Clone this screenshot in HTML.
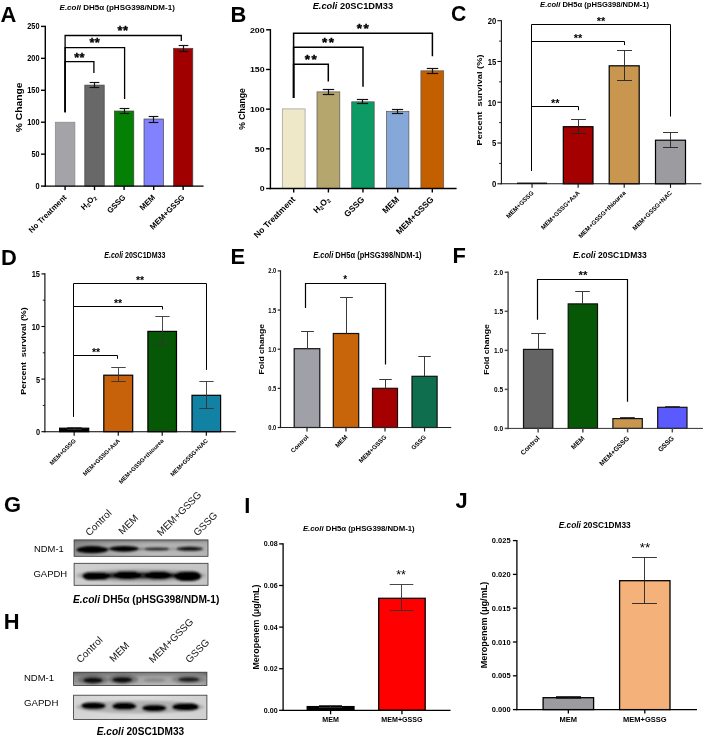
<!DOCTYPE html>
<html lang="en"><head><meta charset="utf-8"><title>Figure</title>
<style>html,body{margin:0;padding:0;background:#fff;overflow:hidden;}svg{display:block;font-family:"Liberation Sans", Arial, sans-serif;}</style></head><body>
<svg width="705" height="737" viewBox="0 0 705 737">
<rect width="705" height="737" fill="#fff"/>
<defs><filter id="bl" x="-20%" y="-50%" width="140%" height="200%"><feGaussianBlur stdDeviation="1.2"/></filter><filter id="bl2" x="-20%" y="-50%" width="140%" height="200%"><feGaussianBlur stdDeviation="0.8"/></filter></defs>
<g id="panelA">
<rect x="55.30" y="122.20" width="19.60" height="63.90" fill="#a3a3a8" stroke="#888" stroke-width="0.7"/>
<rect x="84.80" y="85.10" width="19.40" height="101.00" fill="#686868" stroke="#444" stroke-width="0.7"/>
<line x1="94.50" y1="82.50" x2="94.50" y2="87.50" stroke="#111" stroke-width="1.15" stroke-linecap="butt"/>
<line x1="89.65" y1="82.50" x2="99.35" y2="82.50" stroke="#111" stroke-width="1.15" stroke-linecap="butt"/>
<line x1="89.65" y1="87.50" x2="99.35" y2="87.50" stroke="#111" stroke-width="1.15" stroke-linecap="butt"/>
<rect x="114.40" y="111.00" width="19.40" height="75.10" fill="#048004" stroke="#444" stroke-width="0.7"/>
<line x1="124.50" y1="108.50" x2="124.50" y2="113.50" stroke="#111" stroke-width="1.15" stroke-linecap="butt"/>
<line x1="119.65" y1="108.50" x2="129.35" y2="108.50" stroke="#111" stroke-width="1.15" stroke-linecap="butt"/>
<line x1="119.65" y1="113.50" x2="129.35" y2="113.50" stroke="#111" stroke-width="1.15" stroke-linecap="butt"/>
<rect x="144.00" y="119.00" width="19.40" height="67.10" fill="#8282ff" stroke="#444" stroke-width="0.7"/>
<line x1="153.50" y1="116.50" x2="153.50" y2="122.50" stroke="#111" stroke-width="1.15" stroke-linecap="butt"/>
<line x1="148.65" y1="116.50" x2="158.35" y2="116.50" stroke="#111" stroke-width="1.15" stroke-linecap="butt"/>
<line x1="148.65" y1="122.50" x2="158.35" y2="122.50" stroke="#111" stroke-width="1.15" stroke-linecap="butt"/>
<rect x="173.50" y="48.30" width="19.30" height="137.80" fill="#a00000" stroke="#444" stroke-width="0.7"/>
<line x1="183.50" y1="45.50" x2="183.50" y2="51.50" stroke="#111" stroke-width="1.15" stroke-linecap="butt"/>
<line x1="178.68" y1="45.50" x2="188.32" y2="45.50" stroke="#111" stroke-width="1.15" stroke-linecap="butt"/>
<line x1="178.68" y1="51.50" x2="188.32" y2="51.50" stroke="#111" stroke-width="1.15" stroke-linecap="butt"/>
<line x1="45.30" y1="25.70" x2="45.30" y2="186.80" stroke="#000" stroke-width="1.4" stroke-linecap="butt"/>
<line x1="44.60" y1="186.10" x2="203.60" y2="186.10" stroke="#000" stroke-width="1.4" stroke-linecap="butt"/>
<line x1="41.00" y1="186.10" x2="45.30" y2="186.10" stroke="#000" stroke-width="1.4" stroke-linecap="butt"/>
<text x="39.50" y="189.14" font-size="8.5" font-weight="bold" text-anchor="end" fill="#000" textLength="4.1" lengthAdjust="spacingAndGlyphs">0</text>
<line x1="41.00" y1="154.16" x2="45.30" y2="154.16" stroke="#000" stroke-width="1.4" stroke-linecap="butt"/>
<text x="39.50" y="157.20" font-size="8.5" font-weight="bold" text-anchor="end" fill="#000" textLength="8.1" lengthAdjust="spacingAndGlyphs">50</text>
<line x1="41.00" y1="122.22" x2="45.30" y2="122.22" stroke="#000" stroke-width="1.4" stroke-linecap="butt"/>
<text x="39.50" y="125.26" font-size="8.5" font-weight="bold" text-anchor="end" fill="#000" textLength="12.2" lengthAdjust="spacingAndGlyphs">100</text>
<line x1="41.00" y1="90.28" x2="45.30" y2="90.28" stroke="#000" stroke-width="1.4" stroke-linecap="butt"/>
<text x="39.50" y="93.32" font-size="8.5" font-weight="bold" text-anchor="end" fill="#000" textLength="12.2" lengthAdjust="spacingAndGlyphs">150</text>
<line x1="41.00" y1="58.34" x2="45.30" y2="58.34" stroke="#000" stroke-width="1.4" stroke-linecap="butt"/>
<text x="39.50" y="61.38" font-size="8.5" font-weight="bold" text-anchor="end" fill="#000" textLength="12.2" lengthAdjust="spacingAndGlyphs">200</text>
<line x1="41.00" y1="26.40" x2="45.30" y2="26.40" stroke="#000" stroke-width="1.4" stroke-linecap="butt"/>
<text x="39.50" y="29.44" font-size="8.5" font-weight="bold" text-anchor="end" fill="#000" textLength="12.2" lengthAdjust="spacingAndGlyphs">250</text>
<line x1="65.10" y1="186.10" x2="65.10" y2="190.10" stroke="#000" stroke-width="1.4" stroke-linecap="butt"/>
<text x="67.10" y="197.90" font-size="7.8" font-weight="bold" text-anchor="end" fill="#000" transform="rotate(-45 67.10 197.90)">No Treatment</text>
<line x1="94.50" y1="186.10" x2="94.50" y2="190.10" stroke="#000" stroke-width="1.4" stroke-linecap="butt"/>
<text x="96.50" y="197.90" font-size="7.8" font-weight="bold" text-anchor="end" fill="#000" transform="rotate(-45 96.50 197.90)">H<tspan font-size="70%" dy="1.5">2</tspan><tspan dy="-1.5">O</tspan><tspan font-size="70%" dy="1.5">2</tspan></text>
<line x1="124.10" y1="186.10" x2="124.10" y2="190.10" stroke="#000" stroke-width="1.4" stroke-linecap="butt"/>
<text x="126.10" y="197.90" font-size="7.8" font-weight="bold" text-anchor="end" fill="#000" transform="rotate(-45 126.10 197.90)">GSSG</text>
<line x1="153.70" y1="186.10" x2="153.70" y2="190.10" stroke="#000" stroke-width="1.4" stroke-linecap="butt"/>
<text x="155.70" y="197.90" font-size="7.8" font-weight="bold" text-anchor="end" fill="#000" transform="rotate(-45 155.70 197.90)">MEM</text>
<line x1="183.15" y1="186.10" x2="183.15" y2="190.10" stroke="#000" stroke-width="1.4" stroke-linecap="butt"/>
<text x="185.15" y="197.90" font-size="7.8" font-weight="bold" text-anchor="end" fill="#000" transform="rotate(-45 185.15 197.90)">MEM+GSSG</text>
<text x="22.30" y="107.30" font-size="9.3" font-weight="bold" text-anchor="middle" fill="#000" transform="rotate(-90 22.30 107.30)" textLength="49.7" lengthAdjust="spacingAndGlyphs">% Change</text>
<text x="117.20" y="10.40" font-size="8" font-weight="bold" text-anchor="middle" fill="#000" textLength="115.3" lengthAdjust="spacingAndGlyphs"><tspan font-style="italic">E.coli</tspan> DH5α (pHSG398/NDM-1)</text>
<path d="M65.10 112.30 V35.50 H181.30 V40.90" stroke="#000" stroke-width="1.3" fill="none"/>
<path d="M65.10 112.30 V47.70 H124.60 V99.00" stroke="#000" stroke-width="1.3" fill="none"/>
<path d="M65.10 112.30 V61.70 H93.90 V72.90" stroke="#000" stroke-width="1.3" fill="none"/>
<text x="123.00" y="34.80" font-size="12.8" font-weight="bold" text-anchor="middle" fill="#000" letter-spacing="0.4" stroke="#000" stroke-width="0.35">**</text>
<text x="94.80" y="47.10" font-size="12.8" font-weight="bold" text-anchor="middle" fill="#000" letter-spacing="0.4" stroke="#000" stroke-width="0.35">**</text>
<text x="79.60" y="61.50" font-size="12.8" font-weight="bold" text-anchor="middle" fill="#000" letter-spacing="0.4" stroke="#000" stroke-width="0.35">**</text>
<text x="0.60" y="21.60" font-size="21.9" font-weight="bold" text-anchor="start" fill="#000">A</text>
</g>
<g id="panelB">
<rect x="282.30" y="108.90" width="22.80" height="79.60" fill="#eee8c8" stroke="#999" stroke-width="0.7"/>
<rect x="317.00" y="91.90" width="22.80" height="96.60" fill="#b5a66e" stroke="#555" stroke-width="0.7"/>
<line x1="328.50" y1="89.50" x2="328.50" y2="94.50" stroke="#111" stroke-width="1.2" stroke-linecap="butt"/>
<line x1="322.80" y1="89.50" x2="334.20" y2="89.50" stroke="#111" stroke-width="1.2" stroke-linecap="butt"/>
<line x1="322.80" y1="94.50" x2="334.20" y2="94.50" stroke="#111" stroke-width="1.2" stroke-linecap="butt"/>
<rect x="351.70" y="101.80" width="22.50" height="86.70" fill="#0e9a64" stroke="#555" stroke-width="0.7"/>
<line x1="362.50" y1="99.50" x2="362.50" y2="103.50" stroke="#111" stroke-width="1.2" stroke-linecap="butt"/>
<line x1="356.88" y1="99.50" x2="368.12" y2="99.50" stroke="#111" stroke-width="1.2" stroke-linecap="butt"/>
<line x1="356.88" y1="103.50" x2="368.12" y2="103.50" stroke="#111" stroke-width="1.2" stroke-linecap="butt"/>
<rect x="386.50" y="111.30" width="22.40" height="77.20" fill="#86a8d8" stroke="#555" stroke-width="0.7"/>
<line x1="397.50" y1="109.50" x2="397.50" y2="113.50" stroke="#111" stroke-width="1.2" stroke-linecap="butt"/>
<line x1="391.90" y1="109.50" x2="403.10" y2="109.50" stroke="#111" stroke-width="1.2" stroke-linecap="butt"/>
<line x1="391.90" y1="113.50" x2="403.10" y2="113.50" stroke="#111" stroke-width="1.2" stroke-linecap="butt"/>
<rect x="420.90" y="70.80" width="22.80" height="117.70" fill="#c45f00" stroke="#555" stroke-width="0.7"/>
<line x1="432.50" y1="68.50" x2="432.50" y2="73.50" stroke="#111" stroke-width="1.2" stroke-linecap="butt"/>
<line x1="426.80" y1="68.50" x2="438.20" y2="68.50" stroke="#111" stroke-width="1.2" stroke-linecap="butt"/>
<line x1="426.80" y1="73.50" x2="438.20" y2="73.50" stroke="#111" stroke-width="1.2" stroke-linecap="butt"/>
<line x1="270.40" y1="29.10" x2="270.40" y2="189.20" stroke="#000" stroke-width="1.4" stroke-linecap="butt"/>
<line x1="269.70" y1="188.50" x2="456.60" y2="188.50" stroke="#000" stroke-width="1.4" stroke-linecap="butt"/>
<line x1="266.10" y1="188.50" x2="270.40" y2="188.50" stroke="#000" stroke-width="1.4" stroke-linecap="butt"/>
<text x="264.60" y="191.29" font-size="7.8" font-weight="bold" text-anchor="end" fill="#000" textLength="4.9" lengthAdjust="spacingAndGlyphs">0</text>
<line x1="266.10" y1="148.82" x2="270.40" y2="148.82" stroke="#000" stroke-width="1.4" stroke-linecap="butt"/>
<text x="264.60" y="151.62" font-size="7.8" font-weight="bold" text-anchor="end" fill="#000" textLength="9.8" lengthAdjust="spacingAndGlyphs">50</text>
<line x1="266.10" y1="109.15" x2="270.40" y2="109.15" stroke="#000" stroke-width="1.4" stroke-linecap="butt"/>
<text x="264.60" y="111.94" font-size="7.8" font-weight="bold" text-anchor="end" fill="#000" textLength="14.7" lengthAdjust="spacingAndGlyphs">100</text>
<line x1="266.10" y1="69.48" x2="270.40" y2="69.48" stroke="#000" stroke-width="1.4" stroke-linecap="butt"/>
<text x="264.60" y="72.27" font-size="7.8" font-weight="bold" text-anchor="end" fill="#000" textLength="14.7" lengthAdjust="spacingAndGlyphs">150</text>
<line x1="266.10" y1="29.80" x2="270.40" y2="29.80" stroke="#000" stroke-width="1.4" stroke-linecap="butt"/>
<text x="264.60" y="32.59" font-size="7.8" font-weight="bold" text-anchor="end" fill="#000" textLength="14.7" lengthAdjust="spacingAndGlyphs">200</text>
<line x1="293.70" y1="188.50" x2="293.70" y2="192.50" stroke="#000" stroke-width="1.4" stroke-linecap="butt"/>
<text x="295.70" y="200.00" font-size="8.5" font-weight="bold" text-anchor="end" fill="#000" transform="rotate(-45 295.70 200.00)">No Treatment</text>
<line x1="328.40" y1="188.50" x2="328.40" y2="192.50" stroke="#000" stroke-width="1.4" stroke-linecap="butt"/>
<text x="330.40" y="200.00" font-size="8.5" font-weight="bold" text-anchor="end" fill="#000" transform="rotate(-45 330.40 200.00)">H<tspan font-size="70%" dy="1.5">2</tspan><tspan dy="-1.5">O</tspan><tspan font-size="70%" dy="1.5">2</tspan></text>
<line x1="362.95" y1="188.50" x2="362.95" y2="192.50" stroke="#000" stroke-width="1.4" stroke-linecap="butt"/>
<text x="364.95" y="200.00" font-size="8.5" font-weight="bold" text-anchor="end" fill="#000" transform="rotate(-45 364.95 200.00)">GSSG</text>
<line x1="397.70" y1="188.50" x2="397.70" y2="192.50" stroke="#000" stroke-width="1.4" stroke-linecap="butt"/>
<text x="399.70" y="200.00" font-size="8.5" font-weight="bold" text-anchor="end" fill="#000" transform="rotate(-45 399.70 200.00)">MEM</text>
<line x1="432.30" y1="188.50" x2="432.30" y2="192.50" stroke="#000" stroke-width="1.4" stroke-linecap="butt"/>
<text x="434.30" y="200.00" font-size="8.5" font-weight="bold" text-anchor="end" fill="#000" transform="rotate(-45 434.30 200.00)">MEM+GSSG</text>
<text x="244.50" y="109.00" font-size="8.6" font-weight="bold" text-anchor="middle" fill="#000" transform="rotate(-90 244.50 109.00)">% Change</text>
<text x="352.90" y="9.00" font-size="8.6" font-weight="bold" text-anchor="middle" fill="#000" textLength="80.4" lengthAdjust="spacingAndGlyphs"><tspan font-style="italic">E.coli</tspan> 20SC1DM33</text>
<path d="M293.60 98.00 V33.20 H432.40 V56.20" stroke="#000" stroke-width="1.5" fill="none"/>
<path d="M293.60 98.00 V47.20 H363.00 V86.80" stroke="#000" stroke-width="1.5" fill="none"/>
<path d="M293.60 98.00 V64.20 H328.30 V81.40" stroke="#000" stroke-width="1.5" fill="none"/>
<text x="363.50" y="33.00" font-size="13.5" font-weight="bold" text-anchor="middle" fill="#000" letter-spacing="1.6" stroke="#000" stroke-width="0.4">**</text>
<text x="328.80" y="47.20" font-size="13.5" font-weight="bold" text-anchor="middle" fill="#000" letter-spacing="1.6" stroke="#000" stroke-width="0.4">**</text>
<text x="311.60" y="64.30" font-size="13.5" font-weight="bold" text-anchor="middle" fill="#000" letter-spacing="1.6" stroke="#000" stroke-width="0.4">**</text>
<text x="230.60" y="21.70" font-size="21.9" font-weight="bold" text-anchor="start" fill="#000">B</text>
</g>
<g id="panelC">
<rect x="517.30" y="182.90" width="29.50" height="0.90" fill="#000" stroke="#000" stroke-width="0.5"/>
<rect x="563.30" y="126.70" width="29.70" height="57.10" fill="#a50000" stroke="#000" stroke-width="1.2"/>
<line x1="578.50" y1="119.50" x2="578.50" y2="133.50" stroke="#222" stroke-width="0.9" stroke-linecap="butt"/>
<line x1="571.08" y1="119.50" x2="585.92" y2="119.50" stroke="#222" stroke-width="0.9" stroke-linecap="butt"/>
<line x1="571.08" y1="133.50" x2="585.92" y2="133.50" stroke="#222" stroke-width="0.9" stroke-linecap="butt"/>
<rect x="609.20" y="65.80" width="30.00" height="118.00" fill="#c8964e" stroke="#000" stroke-width="1.2"/>
<line x1="624.50" y1="50.50" x2="624.50" y2="80.50" stroke="#222" stroke-width="0.9" stroke-linecap="butt"/>
<line x1="617.00" y1="50.50" x2="632.00" y2="50.50" stroke="#222" stroke-width="0.9" stroke-linecap="butt"/>
<line x1="617.00" y1="80.50" x2="632.00" y2="80.50" stroke="#222" stroke-width="0.9" stroke-linecap="butt"/>
<rect x="655.50" y="140.20" width="30.00" height="43.60" fill="#9c9ca0" stroke="#000" stroke-width="1.2"/>
<line x1="670.50" y1="132.50" x2="670.50" y2="147.50" stroke="#222" stroke-width="0.9" stroke-linecap="butt"/>
<line x1="663.00" y1="132.50" x2="678.00" y2="132.50" stroke="#222" stroke-width="0.9" stroke-linecap="butt"/>
<line x1="663.00" y1="147.50" x2="678.00" y2="147.50" stroke="#222" stroke-width="0.9" stroke-linecap="butt"/>
<line x1="501.40" y1="20.15" x2="501.40" y2="184.35" stroke="#111" stroke-width="1.1" stroke-linecap="butt"/>
<line x1="500.85" y1="183.80" x2="701.30" y2="183.80" stroke="#111" stroke-width="1.1" stroke-linecap="butt"/>
<line x1="497.40" y1="183.80" x2="501.40" y2="183.80" stroke="#111" stroke-width="1.1" stroke-linecap="butt"/>
<text x="496.20" y="187.24" font-size="9.6" font-weight="bold" text-anchor="end" fill="#000" textLength="4.3" lengthAdjust="spacingAndGlyphs">0</text>
<line x1="497.40" y1="143.03" x2="501.40" y2="143.03" stroke="#111" stroke-width="1.1" stroke-linecap="butt"/>
<text x="496.20" y="146.46" font-size="9.6" font-weight="bold" text-anchor="end" fill="#000" textLength="4.3" lengthAdjust="spacingAndGlyphs">5</text>
<line x1="497.40" y1="102.25" x2="501.40" y2="102.25" stroke="#111" stroke-width="1.1" stroke-linecap="butt"/>
<text x="496.20" y="105.69" font-size="9.6" font-weight="bold" text-anchor="end" fill="#000" textLength="8.5" lengthAdjust="spacingAndGlyphs">10</text>
<line x1="497.40" y1="61.47" x2="501.40" y2="61.47" stroke="#111" stroke-width="1.1" stroke-linecap="butt"/>
<text x="496.20" y="64.91" font-size="9.6" font-weight="bold" text-anchor="end" fill="#000" textLength="8.5" lengthAdjust="spacingAndGlyphs">15</text>
<line x1="497.40" y1="20.70" x2="501.40" y2="20.70" stroke="#111" stroke-width="1.1" stroke-linecap="butt"/>
<text x="496.20" y="24.14" font-size="9.6" font-weight="bold" text-anchor="end" fill="#000" textLength="8.5" lengthAdjust="spacingAndGlyphs">20</text>
<line x1="499.00" y1="163.41" x2="501.40" y2="163.41" stroke="#111" stroke-width="0.8800000000000001" stroke-linecap="butt"/>
<line x1="499.00" y1="122.64" x2="501.40" y2="122.64" stroke="#111" stroke-width="0.8800000000000001" stroke-linecap="butt"/>
<line x1="499.00" y1="81.86" x2="501.40" y2="81.86" stroke="#111" stroke-width="0.8800000000000001" stroke-linecap="butt"/>
<line x1="499.00" y1="41.09" x2="501.40" y2="41.09" stroke="#111" stroke-width="0.8800000000000001" stroke-linecap="butt"/>
<line x1="532.05" y1="183.80" x2="532.05" y2="187.80" stroke="#111" stroke-width="1.1" stroke-linecap="butt"/>
<text x="534.05" y="193.30" font-size="6.2" font-weight="bold" text-anchor="end" fill="#000" transform="rotate(-45 534.05 193.30)">MEM+GSSG</text>
<line x1="578.15" y1="183.80" x2="578.15" y2="187.80" stroke="#111" stroke-width="1.1" stroke-linecap="butt"/>
<text x="580.15" y="193.30" font-size="6.2" font-weight="bold" text-anchor="end" fill="#000" transform="rotate(-45 580.15 193.30)">MEM+GSSG+AsA</text>
<line x1="624.20" y1="183.80" x2="624.20" y2="187.80" stroke="#111" stroke-width="1.1" stroke-linecap="butt"/>
<text x="626.20" y="193.30" font-size="6.2" font-weight="bold" text-anchor="end" fill="#000" transform="rotate(-45 626.20 193.30)">MEM+GSSG+thiourea</text>
<line x1="670.50" y1="183.80" x2="670.50" y2="187.80" stroke="#111" stroke-width="1.1" stroke-linecap="butt"/>
<text x="672.50" y="193.30" font-size="6.2" font-weight="bold" text-anchor="end" fill="#000" transform="rotate(-45 672.50 193.30)">MEM+GSSG+NAC</text>
<text x="482.30" y="100.00" font-size="7.7" font-weight="bold" text-anchor="middle" fill="#000" transform="rotate(-90 482.30 100.00)" textLength="91.0" lengthAdjust="spacingAndGlyphs">Percent  survival (%)</text>
<text x="594.60" y="6.80" font-size="7.6" font-weight="bold" text-anchor="middle" fill="#000" textLength="109.0" lengthAdjust="spacingAndGlyphs"><tspan font-style="italic">E.coli</tspan> DH5α (pHSG398/NDM-1)</text>
<path d="M531.50 170.80 V24.50 H670.50 V116.50" stroke="#000" stroke-width="1.0" fill="none"/>
<path d="M531.50 170.80 V41.50 H624.50 V45.10" stroke="#000" stroke-width="1.0" fill="none"/>
<path d="M531.50 170.80 V106.50 H578.50 V110.20" stroke="#000" stroke-width="1.0" fill="none"/>
<text x="601.00" y="24.60" font-size="11" font-weight="bold" text-anchor="middle" fill="#000">**</text>
<text x="578.00" y="41.60" font-size="11" font-weight="bold" text-anchor="middle" fill="#000">**</text>
<text x="555.30" y="106.80" font-size="11" font-weight="bold" text-anchor="middle" fill="#000">**</text>
<text x="450.90" y="21.10" font-size="21.2" font-weight="bold" text-anchor="start" fill="#000">C</text>
</g>
<g id="panelD">
<rect x="59.60" y="428.20" width="29.10" height="3.50" fill="#000" stroke="#000" stroke-width="1.2"/>
<line x1="74.50" y1="427.50" x2="74.50" y2="429.50" stroke="#333" stroke-width="0.9" stroke-linecap="butt"/>
<line x1="67.22" y1="427.50" x2="81.78" y2="427.50" stroke="#333" stroke-width="0.9" stroke-linecap="butt"/>
<line x1="67.22" y1="429.50" x2="81.78" y2="429.50" stroke="#333" stroke-width="0.9" stroke-linecap="butt"/>
<rect x="103.80" y="375.20" width="28.90" height="56.50" fill="#c8620a" stroke="#000" stroke-width="1.2"/>
<line x1="118.50" y1="367.50" x2="118.50" y2="381.50" stroke="#333" stroke-width="0.9" stroke-linecap="butt"/>
<line x1="111.28" y1="367.50" x2="125.72" y2="367.50" stroke="#333" stroke-width="0.9" stroke-linecap="butt"/>
<line x1="111.28" y1="381.50" x2="125.72" y2="381.50" stroke="#333" stroke-width="0.9" stroke-linecap="butt"/>
<rect x="147.90" y="331.40" width="28.60" height="100.30" fill="#065806" stroke="#000" stroke-width="1.2"/>
<line x1="162.50" y1="316.50" x2="162.50" y2="345.50" stroke="#333" stroke-width="0.9" stroke-linecap="butt"/>
<line x1="155.35" y1="316.50" x2="169.65" y2="316.50" stroke="#333" stroke-width="0.9" stroke-linecap="butt"/>
<line x1="155.35" y1="345.50" x2="169.65" y2="345.50" stroke="#333" stroke-width="0.9" stroke-linecap="butt"/>
<rect x="192.00" y="395.30" width="28.60" height="36.40" fill="#1282a4" stroke="#000" stroke-width="1.2"/>
<line x1="206.50" y1="381.50" x2="206.50" y2="408.50" stroke="#333" stroke-width="0.9" stroke-linecap="butt"/>
<line x1="199.35" y1="381.50" x2="213.65" y2="381.50" stroke="#333" stroke-width="0.9" stroke-linecap="butt"/>
<line x1="199.35" y1="408.50" x2="213.65" y2="408.50" stroke="#333" stroke-width="0.9" stroke-linecap="butt"/>
<line x1="44.90" y1="273.35" x2="44.90" y2="432.25" stroke="#000" stroke-width="1.1" stroke-linecap="butt"/>
<line x1="44.35" y1="431.70" x2="235.80" y2="431.70" stroke="#000" stroke-width="1.1" stroke-linecap="butt"/>
<line x1="41.40" y1="431.70" x2="44.90" y2="431.70" stroke="#000" stroke-width="1.1" stroke-linecap="butt"/>
<text x="40.00" y="435.21" font-size="9.8" font-weight="bold" text-anchor="end" fill="#000" textLength="4.1" lengthAdjust="spacingAndGlyphs">0</text>
<line x1="41.40" y1="379.10" x2="44.90" y2="379.10" stroke="#000" stroke-width="1.1" stroke-linecap="butt"/>
<text x="40.00" y="382.61" font-size="9.8" font-weight="bold" text-anchor="end" fill="#000" textLength="4.1" lengthAdjust="spacingAndGlyphs">5</text>
<line x1="41.40" y1="326.50" x2="44.90" y2="326.50" stroke="#000" stroke-width="1.1" stroke-linecap="butt"/>
<text x="40.00" y="330.01" font-size="9.8" font-weight="bold" text-anchor="end" fill="#000" textLength="8.3" lengthAdjust="spacingAndGlyphs">10</text>
<line x1="41.40" y1="273.90" x2="44.90" y2="273.90" stroke="#000" stroke-width="1.1" stroke-linecap="butt"/>
<text x="40.00" y="277.41" font-size="9.8" font-weight="bold" text-anchor="end" fill="#000" textLength="8.3" lengthAdjust="spacingAndGlyphs">15</text>
<line x1="42.80" y1="405.40" x2="44.90" y2="405.40" stroke="#000" stroke-width="0.8800000000000001" stroke-linecap="butt"/>
<line x1="42.80" y1="352.80" x2="44.90" y2="352.80" stroke="#000" stroke-width="0.8800000000000001" stroke-linecap="butt"/>
<line x1="42.80" y1="300.20" x2="44.90" y2="300.20" stroke="#000" stroke-width="0.8800000000000001" stroke-linecap="butt"/>
<line x1="74.15" y1="431.70" x2="74.15" y2="435.70" stroke="#000" stroke-width="1.1" stroke-linecap="butt"/>
<text x="76.15" y="441.20" font-size="5.9" font-weight="bold" text-anchor="end" fill="#000" transform="rotate(-45 76.15 441.20)">MEM+GSSG</text>
<line x1="118.25" y1="431.70" x2="118.25" y2="435.70" stroke="#000" stroke-width="1.1" stroke-linecap="butt"/>
<text x="120.25" y="441.20" font-size="5.9" font-weight="bold" text-anchor="end" fill="#000" transform="rotate(-45 120.25 441.20)">MEM+GSSG+AsA</text>
<line x1="162.20" y1="431.70" x2="162.20" y2="435.70" stroke="#000" stroke-width="1.1" stroke-linecap="butt"/>
<text x="164.20" y="441.20" font-size="5.9" font-weight="bold" text-anchor="end" fill="#000" transform="rotate(-45 164.20 441.20)">MEM+GSSG+thiourea</text>
<line x1="206.30" y1="431.70" x2="206.30" y2="435.70" stroke="#000" stroke-width="1.1" stroke-linecap="butt"/>
<text x="208.30" y="441.20" font-size="5.9" font-weight="bold" text-anchor="end" fill="#000" transform="rotate(-45 208.30 441.20)">MEM+GSSG+NAC</text>
<text x="26.00" y="351.00" font-size="7.0" font-weight="bold" text-anchor="middle" fill="#000" transform="rotate(-90 26.00 351.00)" textLength="87.4" lengthAdjust="spacingAndGlyphs">Percent  survival (%)</text>
<text x="134.80" y="258.10" font-size="8.4" font-weight="bold" text-anchor="middle" fill="#000" textLength="61.1" lengthAdjust="spacingAndGlyphs"><tspan font-style="italic">E.coli</tspan> 20SC1DM33</text>
<path d="M73.50 416.50 V283.50 H206.50 V369.90" stroke="#000" stroke-width="1.0" fill="none"/>
<path d="M73.50 416.50 V306.50 H162.50 V309.50" stroke="#000" stroke-width="1.0" fill="none"/>
<path d="M73.50 416.50 V355.50 H117.50 V358.80" stroke="#000" stroke-width="1.0" fill="none"/>
<text x="140.00" y="283.50" font-size="10.5" font-weight="bold" text-anchor="middle" fill="#000">**</text>
<text x="118.00" y="306.50" font-size="10.5" font-weight="bold" text-anchor="middle" fill="#000">**</text>
<text x="96.00" y="355.60" font-size="10.5" font-weight="bold" text-anchor="middle" fill="#000">**</text>
<text x="0.90" y="265.40" font-size="21.9" font-weight="bold" text-anchor="start" fill="#000">D</text>
</g>
<g id="panelE">
<rect x="294.20" y="348.70" width="25.60" height="78.80" fill="#a0a0a8" stroke="#111" stroke-width="1.2"/>
<line x1="307.50" y1="331.50" x2="307.50" y2="348.70" stroke="#3a3a3a" stroke-width="1.0" stroke-linecap="butt"/>
<line x1="301.10" y1="331.50" x2="313.90" y2="331.50" stroke="#3a3a3a" stroke-width="1.0" stroke-linecap="butt"/>
<rect x="333.30" y="333.50" width="25.40" height="94.00" fill="#c8640a" stroke="#111" stroke-width="1.2"/>
<line x1="346.50" y1="297.50" x2="346.50" y2="333.50" stroke="#3a3a3a" stroke-width="1.0" stroke-linecap="butt"/>
<line x1="340.15" y1="297.50" x2="352.85" y2="297.50" stroke="#3a3a3a" stroke-width="1.0" stroke-linecap="butt"/>
<rect x="372.50" y="388.30" width="25.00" height="39.20" fill="#a50000" stroke="#111" stroke-width="1.2"/>
<line x1="385.50" y1="379.50" x2="385.50" y2="388.30" stroke="#3a3a3a" stroke-width="1.0" stroke-linecap="butt"/>
<line x1="379.25" y1="379.50" x2="391.75" y2="379.50" stroke="#3a3a3a" stroke-width="1.0" stroke-linecap="butt"/>
<rect x="412.00" y="376.30" width="25.10" height="51.20" fill="#0e6e4e" stroke="#111" stroke-width="1.2"/>
<line x1="424.50" y1="356.50" x2="424.50" y2="376.30" stroke="#3a3a3a" stroke-width="1.0" stroke-linecap="butt"/>
<line x1="418.23" y1="356.50" x2="430.77" y2="356.50" stroke="#3a3a3a" stroke-width="1.0" stroke-linecap="butt"/>
<line x1="280.50" y1="270.30" x2="280.50" y2="428.10" stroke="#222" stroke-width="1.2" stroke-linecap="butt"/>
<line x1="279.90" y1="427.50" x2="451.20" y2="427.50" stroke="#222" stroke-width="1.2" stroke-linecap="butt"/>
<line x1="277.70" y1="427.50" x2="280.50" y2="427.50" stroke="#222" stroke-width="1.2" stroke-linecap="butt"/>
<text x="276.20" y="430.08" font-size="7.2" font-weight="bold" text-anchor="end" fill="#000" textLength="8.0" lengthAdjust="spacingAndGlyphs">0.0</text>
<line x1="277.70" y1="388.35" x2="280.50" y2="388.35" stroke="#222" stroke-width="1.2" stroke-linecap="butt"/>
<text x="276.20" y="390.93" font-size="7.2" font-weight="bold" text-anchor="end" fill="#000" textLength="8.0" lengthAdjust="spacingAndGlyphs">0.5</text>
<line x1="277.70" y1="349.20" x2="280.50" y2="349.20" stroke="#222" stroke-width="1.2" stroke-linecap="butt"/>
<text x="276.20" y="351.78" font-size="7.2" font-weight="bold" text-anchor="end" fill="#000" textLength="8.0" lengthAdjust="spacingAndGlyphs">1.0</text>
<line x1="277.70" y1="310.05" x2="280.50" y2="310.05" stroke="#222" stroke-width="1.2" stroke-linecap="butt"/>
<text x="276.20" y="312.63" font-size="7.2" font-weight="bold" text-anchor="end" fill="#000" textLength="8.0" lengthAdjust="spacingAndGlyphs">1.5</text>
<line x1="277.70" y1="270.90" x2="280.50" y2="270.90" stroke="#222" stroke-width="1.2" stroke-linecap="butt"/>
<text x="276.20" y="273.48" font-size="7.2" font-weight="bold" text-anchor="end" fill="#000" textLength="8.0" lengthAdjust="spacingAndGlyphs">2.0</text>
<line x1="307.00" y1="427.50" x2="307.00" y2="431.50" stroke="#222" stroke-width="1.2" stroke-linecap="butt"/>
<text x="309.00" y="437.60" font-size="6.25" font-weight="bold" text-anchor="end" fill="#000" transform="rotate(-45 309.00 437.60)">Control</text>
<line x1="346.00" y1="427.50" x2="346.00" y2="431.50" stroke="#222" stroke-width="1.2" stroke-linecap="butt"/>
<text x="348.00" y="437.60" font-size="6.25" font-weight="bold" text-anchor="end" fill="#000" transform="rotate(-45 348.00 437.60)">MEM</text>
<line x1="385.00" y1="427.50" x2="385.00" y2="431.50" stroke="#222" stroke-width="1.2" stroke-linecap="butt"/>
<text x="387.00" y="437.60" font-size="6.25" font-weight="bold" text-anchor="end" fill="#000" transform="rotate(-45 387.00 437.60)">MEM+GSSG</text>
<line x1="424.55" y1="427.50" x2="424.55" y2="431.50" stroke="#222" stroke-width="1.2" stroke-linecap="butt"/>
<text x="426.55" y="437.60" font-size="6.25" font-weight="bold" text-anchor="end" fill="#000" transform="rotate(-45 426.55 437.60)">GSSG</text>
<text x="264.30" y="349.20" font-size="7.3" font-weight="bold" text-anchor="middle" fill="#000" transform="rotate(-90 264.30 349.20)" textLength="50.5" lengthAdjust="spacingAndGlyphs">Fold change</text>
<text x="367.40" y="258.20" font-size="9.0" font-weight="bold" text-anchor="middle" fill="#000" textLength="108.5" lengthAdjust="spacingAndGlyphs"><tspan font-style="italic">E.coli</tspan> DH5α (pHSG398/NDM-1)</text>
<path d="M305.50 308.10 V283.50 H385.50 V364.60" stroke="#000" stroke-width="1.2" fill="none"/>
<text x="345.30" y="283.20" font-size="10" font-weight="bold" text-anchor="middle" fill="#000">*</text>
<text x="230.60" y="263.60" font-size="21.9" font-weight="bold" text-anchor="start" fill="#000">E</text>
</g>
<g id="panelF">
<rect x="523.50" y="349.40" width="29.30" height="79.00" fill="#646464" stroke="#111" stroke-width="1.2"/>
<line x1="538.50" y1="333.50" x2="538.50" y2="349.40" stroke="#3a3a3a" stroke-width="1.0" stroke-linecap="butt"/>
<line x1="531.17" y1="333.50" x2="545.83" y2="333.50" stroke="#3a3a3a" stroke-width="1.0" stroke-linecap="butt"/>
<rect x="568.20" y="303.90" width="29.30" height="124.50" fill="#065806" stroke="#111" stroke-width="1.2"/>
<line x1="582.50" y1="291.50" x2="582.50" y2="303.90" stroke="#3a3a3a" stroke-width="1.0" stroke-linecap="butt"/>
<line x1="575.17" y1="291.50" x2="589.83" y2="291.50" stroke="#3a3a3a" stroke-width="1.0" stroke-linecap="butt"/>
<rect x="612.90" y="418.60" width="29.40" height="9.80" fill="#c8964e" stroke="#111" stroke-width="1.2"/>
<line x1="627.50" y1="417.50" x2="627.50" y2="418.60" stroke="#3a3a3a" stroke-width="1.0" stroke-linecap="butt"/>
<line x1="620.15" y1="417.50" x2="634.85" y2="417.50" stroke="#3a3a3a" stroke-width="1.0" stroke-linecap="butt"/>
<rect x="657.70" y="407.30" width="29.30" height="21.10" fill="#5a5aff" stroke="#111" stroke-width="1.2"/>
<line x1="672.50" y1="406.50" x2="672.50" y2="407.30" stroke="#3a3a3a" stroke-width="1.0" stroke-linecap="butt"/>
<line x1="665.17" y1="406.50" x2="679.83" y2="406.50" stroke="#3a3a3a" stroke-width="1.0" stroke-linecap="butt"/>
<line x1="508.10" y1="271.55" x2="508.10" y2="429.15" stroke="#505050" stroke-width="1.5" stroke-linecap="butt"/>
<line x1="507.35" y1="428.40" x2="703.00" y2="428.40" stroke="#333" stroke-width="1.0" stroke-linecap="butt"/>
<line x1="504.70" y1="428.40" x2="508.10" y2="428.40" stroke="#505050" stroke-width="1.5" stroke-linecap="butt"/>
<text x="503.20" y="431.01" font-size="7.3" font-weight="bold" text-anchor="end" fill="#000" textLength="9.1" lengthAdjust="spacingAndGlyphs">0.0</text>
<line x1="504.70" y1="389.38" x2="508.10" y2="389.38" stroke="#505050" stroke-width="1.5" stroke-linecap="butt"/>
<text x="503.20" y="391.99" font-size="7.3" font-weight="bold" text-anchor="end" fill="#000" textLength="9.1" lengthAdjust="spacingAndGlyphs">0.5</text>
<line x1="504.70" y1="350.35" x2="508.10" y2="350.35" stroke="#505050" stroke-width="1.5" stroke-linecap="butt"/>
<text x="503.20" y="352.96" font-size="7.3" font-weight="bold" text-anchor="end" fill="#000" textLength="9.1" lengthAdjust="spacingAndGlyphs">1.0</text>
<line x1="504.70" y1="311.32" x2="508.10" y2="311.32" stroke="#505050" stroke-width="1.5" stroke-linecap="butt"/>
<text x="503.20" y="313.94" font-size="7.3" font-weight="bold" text-anchor="end" fill="#000" textLength="9.1" lengthAdjust="spacingAndGlyphs">1.5</text>
<line x1="504.70" y1="272.30" x2="508.10" y2="272.30" stroke="#505050" stroke-width="1.5" stroke-linecap="butt"/>
<text x="503.20" y="274.91" font-size="7.3" font-weight="bold" text-anchor="end" fill="#000" textLength="9.1" lengthAdjust="spacingAndGlyphs">2.0</text>
<line x1="538.15" y1="428.40" x2="538.15" y2="432.40" stroke="#505050" stroke-width="1.5" stroke-linecap="butt"/>
<text x="540.15" y="438.70" font-size="6.7" font-weight="bold" text-anchor="end" fill="#000" transform="rotate(-45 540.15 438.70)">Control</text>
<line x1="582.85" y1="428.40" x2="582.85" y2="432.40" stroke="#505050" stroke-width="1.5" stroke-linecap="butt"/>
<text x="584.85" y="438.70" font-size="6.7" font-weight="bold" text-anchor="end" fill="#000" transform="rotate(-45 584.85 438.70)">MEM</text>
<line x1="627.60" y1="428.40" x2="627.60" y2="432.40" stroke="#505050" stroke-width="1.5" stroke-linecap="butt"/>
<text x="629.60" y="438.70" font-size="6.7" font-weight="bold" text-anchor="end" fill="#000" transform="rotate(-45 629.60 438.70)">MEM+GSSG</text>
<line x1="672.35" y1="428.40" x2="672.35" y2="432.40" stroke="#505050" stroke-width="1.5" stroke-linecap="butt"/>
<text x="674.35" y="438.70" font-size="6.7" font-weight="bold" text-anchor="end" fill="#000" transform="rotate(-45 674.35 438.70)">GSSG</text>
<text x="489.30" y="349.50" font-size="7.3" font-weight="bold" text-anchor="middle" fill="#000" transform="rotate(-90 489.30 349.50)" textLength="50.5" lengthAdjust="spacingAndGlyphs">Fold change</text>
<text x="609.80" y="258.00" font-size="8.9" font-weight="bold" text-anchor="middle" fill="#000" textLength="73.8" lengthAdjust="spacingAndGlyphs"><tspan font-style="italic">E.coli</tspan> 20SC1DM33</text>
<path d="M537.50 319.70 V279.50 H627.50 V401.70" stroke="#000" stroke-width="1.2" fill="none"/>
<text x="582.90" y="278.60" font-size="11.5" font-weight="bold" text-anchor="middle" fill="#000">**</text>
<text x="452.60" y="263.40" font-size="21.9" font-weight="bold" text-anchor="start" fill="#000">F</text>
</g>
<g id="panelI">
<rect x="307.20" y="706.60" width="46.80" height="3.70" fill="#000" stroke="#000" stroke-width="1.3"/>
<line x1="330.50" y1="705.50" x2="330.50" y2="707.50" stroke="#333" stroke-width="0.9" stroke-linecap="butt"/>
<line x1="319.00" y1="705.50" x2="342.00" y2="705.50" stroke="#333" stroke-width="0.9" stroke-linecap="butt"/>
<line x1="319.00" y1="707.50" x2="342.00" y2="707.50" stroke="#333" stroke-width="0.9" stroke-linecap="butt"/>
<rect x="378.70" y="598.30" width="46.50" height="112.00" fill="#ff0000" stroke="#000" stroke-width="1.3"/>
<line x1="401.50" y1="584.50" x2="401.50" y2="610.50" stroke="#333" stroke-width="0.9" stroke-linecap="butt"/>
<line x1="389.70" y1="584.50" x2="413.30" y2="584.50" stroke="#333" stroke-width="0.9" stroke-linecap="butt"/>
<line x1="389.70" y1="610.50" x2="413.30" y2="610.50" stroke="#333" stroke-width="0.9" stroke-linecap="butt"/>
<line x1="283.10" y1="543.25" x2="283.10" y2="710.95" stroke="#000" stroke-width="1.3" stroke-linecap="butt"/>
<line x1="282.45" y1="710.30" x2="450.50" y2="710.30" stroke="#000" stroke-width="1.3" stroke-linecap="butt"/>
<line x1="279.10" y1="710.30" x2="283.10" y2="710.30" stroke="#000" stroke-width="1.3" stroke-linecap="butt"/>
<text x="277.60" y="712.84" font-size="7.1" font-weight="bold" text-anchor="end" fill="#000">0.00</text>
<line x1="279.10" y1="668.70" x2="283.10" y2="668.70" stroke="#000" stroke-width="1.3" stroke-linecap="butt"/>
<text x="277.60" y="671.24" font-size="7.1" font-weight="bold" text-anchor="end" fill="#000">0.02</text>
<line x1="279.10" y1="627.10" x2="283.10" y2="627.10" stroke="#000" stroke-width="1.3" stroke-linecap="butt"/>
<text x="277.60" y="629.64" font-size="7.1" font-weight="bold" text-anchor="end" fill="#000">0.04</text>
<line x1="279.10" y1="585.50" x2="283.10" y2="585.50" stroke="#000" stroke-width="1.3" stroke-linecap="butt"/>
<text x="277.60" y="588.04" font-size="7.1" font-weight="bold" text-anchor="end" fill="#000">0.06</text>
<line x1="279.10" y1="543.90" x2="283.10" y2="543.90" stroke="#000" stroke-width="1.3" stroke-linecap="butt"/>
<text x="277.60" y="546.44" font-size="7.1" font-weight="bold" text-anchor="end" fill="#000">0.08</text>
<line x1="330.60" y1="710.30" x2="330.60" y2="714.30" stroke="#000" stroke-width="1.3" stroke-linecap="butt"/>
<text x="330.60" y="721.70" font-size="7.1" font-weight="bold" text-anchor="middle" fill="#000">MEM</text>
<line x1="401.95" y1="710.30" x2="401.95" y2="714.30" stroke="#000" stroke-width="1.3" stroke-linecap="butt"/>
<text x="401.95" y="721.70" font-size="7.1" font-weight="bold" text-anchor="middle" fill="#000">MEM+GSSG</text>
<text x="259.00" y="627.00" font-size="8.6" font-weight="bold" text-anchor="middle" fill="#000" transform="rotate(-90 259.00 627.00)" textLength="85.1" lengthAdjust="spacingAndGlyphs">Meropenem (μg/mL)</text>
<text x="358.80" y="531.40" font-size="8.0" font-weight="bold" text-anchor="middle" fill="#000" textLength="111.8" lengthAdjust="spacingAndGlyphs"><tspan font-style="italic">E.coli</tspan> DH5α (pHSG398/NDM-1)</text>
<text x="401.00" y="578.50" font-size="12.5" font-weight="normal" text-anchor="middle" fill="#000">**</text>
<text x="244.20" y="512.60" font-size="21.9" font-weight="bold" text-anchor="start" fill="#000">I</text>
</g>
<g id="panelJ">
<rect x="543.10" y="697.70" width="50.50" height="11.90" fill="#9c9ca0" stroke="#000" stroke-width="1.3"/>
<line x1="568.50" y1="696.50" x2="568.50" y2="698.50" stroke="#222" stroke-width="0.9" stroke-linecap="butt"/>
<line x1="556.00" y1="696.50" x2="581.00" y2="696.50" stroke="#222" stroke-width="0.9" stroke-linecap="butt"/>
<line x1="556.00" y1="698.50" x2="581.00" y2="698.50" stroke="#222" stroke-width="0.9" stroke-linecap="butt"/>
<rect x="619.60" y="580.70" width="50.40" height="128.90" fill="#f4b27a" stroke="#000" stroke-width="1.3"/>
<line x1="644.50" y1="557.50" x2="644.50" y2="603.50" stroke="#222" stroke-width="0.9" stroke-linecap="butt"/>
<line x1="632.05" y1="557.50" x2="656.95" y2="557.50" stroke="#222" stroke-width="0.9" stroke-linecap="butt"/>
<line x1="632.05" y1="603.50" x2="656.95" y2="603.50" stroke="#222" stroke-width="0.9" stroke-linecap="butt"/>
<line x1="516.90" y1="539.95" x2="516.90" y2="710.25" stroke="#000" stroke-width="1.3" stroke-linecap="butt"/>
<line x1="516.25" y1="709.60" x2="697.00" y2="709.60" stroke="#000" stroke-width="1.3" stroke-linecap="butt"/>
<line x1="512.90" y1="709.60" x2="516.90" y2="709.60" stroke="#000" stroke-width="1.3" stroke-linecap="butt"/>
<text x="510.60" y="712.28" font-size="7.5" font-weight="bold" text-anchor="end" fill="#000">0.000</text>
<line x1="512.90" y1="675.80" x2="516.90" y2="675.80" stroke="#000" stroke-width="1.3" stroke-linecap="butt"/>
<text x="510.60" y="678.49" font-size="7.5" font-weight="bold" text-anchor="end" fill="#000">0.005</text>
<line x1="512.90" y1="642.00" x2="516.90" y2="642.00" stroke="#000" stroke-width="1.3" stroke-linecap="butt"/>
<text x="510.60" y="644.68" font-size="7.5" font-weight="bold" text-anchor="end" fill="#000">0.010</text>
<line x1="512.90" y1="608.20" x2="516.90" y2="608.20" stroke="#000" stroke-width="1.3" stroke-linecap="butt"/>
<text x="510.60" y="610.88" font-size="7.5" font-weight="bold" text-anchor="end" fill="#000">0.015</text>
<line x1="512.90" y1="574.40" x2="516.90" y2="574.40" stroke="#000" stroke-width="1.3" stroke-linecap="butt"/>
<text x="510.60" y="577.09" font-size="7.5" font-weight="bold" text-anchor="end" fill="#000">0.020</text>
<line x1="512.90" y1="540.60" x2="516.90" y2="540.60" stroke="#000" stroke-width="1.3" stroke-linecap="butt"/>
<text x="510.60" y="543.28" font-size="7.5" font-weight="bold" text-anchor="end" fill="#000">0.025</text>
<line x1="568.35" y1="709.60" x2="568.35" y2="713.60" stroke="#000" stroke-width="1.3" stroke-linecap="butt"/>
<text x="568.35" y="721.60" font-size="7.5" font-weight="bold" text-anchor="middle" fill="#000">MEM</text>
<line x1="644.80" y1="709.60" x2="644.80" y2="713.60" stroke="#000" stroke-width="1.3" stroke-linecap="butt"/>
<text x="644.80" y="721.60" font-size="7.5" font-weight="bold" text-anchor="middle" fill="#000">MEM+GSSG</text>
<text x="487.40" y="625.00" font-size="8.6" font-weight="bold" text-anchor="middle" fill="#000" transform="rotate(-90 487.40 625.00)" textLength="86.5" lengthAdjust="spacingAndGlyphs">Meropenem (μg/mL)</text>
<text x="594.70" y="528.20" font-size="8.3" font-weight="bold" text-anchor="middle" fill="#000" textLength="71.9" lengthAdjust="spacingAndGlyphs"><tspan font-style="italic">E.coli</tspan> 20SC1DM33</text>
<text x="645.10" y="552.00" font-size="13.5" font-weight="normal" text-anchor="middle" fill="#000">**</text>
<text x="455.60" y="507.80" font-size="21.9" font-weight="bold" text-anchor="start" fill="#000">J</text>
</g>
<g id="panelG">
<text x="3.90" y="511.90" font-size="21.9" font-weight="bold" text-anchor="start" fill="#000">G</text>
<text x="89.50" y="536.50" font-size="10" font-weight="normal" text-anchor="start" fill="#111" transform="rotate(-45 89.50 536.50)">Control</text>
<text x="122.50" y="535.00" font-size="10" font-weight="normal" text-anchor="start" fill="#111" transform="rotate(-45 122.50 535.00)">MEM</text>
<text x="161.00" y="536.50" font-size="10" font-weight="normal" text-anchor="start" fill="#111" transform="rotate(-45 161.00 536.50)">MEM+GSSG</text>
<text x="197.50" y="536.50" font-size="10" font-weight="normal" text-anchor="start" fill="#111" transform="rotate(-45 197.50 536.50)">GSSG</text>
<text x="34.00" y="552.10" font-size="9.5" font-weight="normal" text-anchor="start" fill="#080808" textLength="29.8" lengthAdjust="spacingAndGlyphs">NDM-1</text>
<text x="33.50" y="576.50" font-size="9.6" font-weight="normal" text-anchor="start" fill="#080808" textLength="33.7" lengthAdjust="spacingAndGlyphs">GAPDH</text>
<defs><linearGradient id="gG1" x1="0" y1="0" x2="1" y2="0"><stop offset="0" stop-color="#8c8c8c"/><stop offset="0.3" stop-color="#a8a8a8"/><stop offset="0.6" stop-color="#b8b8b8"/><stop offset="1" stop-color="#b0b0b0"/></linearGradient><clipPath id="cG1"><rect x="74.1" y="539.9" width="133.9" height="16.4"/></clipPath></defs>
<rect x="74.1" y="539.9" width="133.9" height="16.4" fill="url(#gG1)"/>
<defs><linearGradient id="vG1" x1="0" y1="0" x2="0" y2="1"><stop offset="0" stop-color="#000" stop-opacity="0.22"/><stop offset="0.2" stop-color="#000" stop-opacity="0.05"/><stop offset="0.6" stop-color="#fff" stop-opacity="0.0"/><stop offset="1" stop-color="#fff" stop-opacity="0.08"/></linearGradient></defs>
<rect x="74.1" y="539.9" width="133.9" height="16.4" fill="url(#vG1)"/>
<g clip-path="url(#cG1)"><g filter="url(#bl)">
<ellipse cx="141.0" cy="540.5" rx="67.0" ry="1.5" fill="#777" opacity="0.6"/>
<ellipse cx="107.5" cy="549.0" rx="7.5" ry="1.2" fill="#333" opacity="0.8"/>
<ellipse cx="140.5" cy="549.0" rx="5.5" ry="0.9" fill="#555" opacity="0.7"/>
<ellipse cx="172.0" cy="549.0" rx="6.0" ry="0.8" fill="#666" opacity="0.6"/>
<ellipse cx="92.2" cy="549.7" rx="15.8" ry="3.6" fill="#000" opacity="1"/>
<ellipse cx="124.2" cy="548.8" rx="14.8" ry="2.9" fill="#000" opacity="1"/>
<ellipse cx="156.9" cy="549.0" rx="12.5" ry="1.6" fill="#222" opacity="1"/>
<ellipse cx="189.7" cy="548.8" rx="13.7" ry="2.0" fill="#111" opacity="1"/>
</g></g>
<rect x="74.1" y="539.9" width="133.9" height="16.4" fill="none" stroke="#333" stroke-width="0.8"/>
<defs><linearGradient id="gG2" x1="0" y1="0" x2="1" y2="0"><stop offset="0" stop-color="#d0d0d0"/><stop offset="0.5" stop-color="#c8c8c8"/><stop offset="1" stop-color="#c4c4c4"/></linearGradient><clipPath id="cG2"><rect x="74.1" y="563.3" width="133.9" height="22"/></clipPath></defs>
<rect x="74.1" y="563.3" width="133.9" height="22" fill="url(#gG2)"/>
<g clip-path="url(#cG2)"><g filter="url(#bl)">
<ellipse cx="141.0" cy="575.5" rx="65.0" ry="6.5" fill="#888" opacity="0.55"/>
<ellipse cx="140.0" cy="575.5" rx="50.0" ry="3.5" fill="#222" opacity="0.9"/>
<rect x="82.0" y="571.9" width="28.5" height="8.2" rx="10.3" ry="4.1" fill="#000" opacity="1"/>
<rect x="113.5" y="571.0" width="28.0" height="8.6" rx="10.1" ry="4.3" fill="#000" opacity="1"/>
<rect x="144.5" y="571.2" width="27.5" height="8.2" rx="9.9" ry="4.1" fill="#000" opacity="1"/>
<rect x="173.5" y="571.4" width="28.0" height="9.6" rx="10.1" ry="4.8" fill="#000" opacity="1"/>
</g></g>
<rect x="74.1" y="563.3" width="133.9" height="22" fill="none" stroke="#333" stroke-width="0.8"/>
<text x="146.10" y="602.80" font-size="10.2" font-weight="bold" text-anchor="middle" fill="#000" textLength="146.4" lengthAdjust="spacingAndGlyphs"><tspan font-style="italic">E.coli</tspan> DH5α (pHSG398/NDM-1)</text>
</g>
<g id="panelH">
<text x="3.80" y="628.50" font-size="21.9" font-weight="bold" text-anchor="start" fill="#000">H</text>
<text x="80.50" y="663.50" font-size="10" font-weight="normal" text-anchor="start" fill="#111" transform="rotate(-45 80.50 663.50)">Control</text>
<text x="113.50" y="662.50" font-size="10" font-weight="normal" text-anchor="start" fill="#111" transform="rotate(-45 113.50 662.50)">MEM</text>
<text x="153.00" y="663.50" font-size="10" font-weight="normal" text-anchor="start" fill="#111" transform="rotate(-45 153.00 663.50)">MEM+GSSG</text>
<text x="189.50" y="663.50" font-size="10" font-weight="normal" text-anchor="start" fill="#111" transform="rotate(-45 189.50 663.50)">GSSG</text>
<text x="23.90" y="680.80" font-size="9.5" font-weight="normal" text-anchor="start" fill="#080808" textLength="30.2" lengthAdjust="spacingAndGlyphs">NDM-1</text>
<text x="23.90" y="706.20" font-size="9.6" font-weight="normal" text-anchor="start" fill="#080808" textLength="34.5" lengthAdjust="spacingAndGlyphs">GAPDH</text>
<defs><linearGradient id="gH1" x1="0" y1="0" x2="1" y2="0"><stop offset="0" stop-color="#8c8c8c"/><stop offset="0.2" stop-color="#9c9c9c"/><stop offset="0.6" stop-color="#a8a8a8"/><stop offset="0.9" stop-color="#a4a4a4"/><stop offset="1" stop-color="#909090"/></linearGradient><clipPath id="cH1"><rect x="73.6" y="672.2" width="133.3" height="13.3"/></clipPath></defs>
<rect x="73.6" y="672.2" width="133.3" height="13.3" fill="url(#gH1)"/>
<defs><linearGradient id="vH1" x1="0" y1="0" x2="0" y2="1"><stop offset="0" stop-color="#000" stop-opacity="0.3"/><stop offset="0.25" stop-color="#000" stop-opacity="0.12"/><stop offset="0.6" stop-color="#fff" stop-opacity="0.0"/><stop offset="1" stop-color="#fff" stop-opacity="0.18"/></linearGradient></defs>
<rect x="73.6" y="672.2" width="133.3" height="13.3" fill="url(#vH1)"/>
<g clip-path="url(#cH1)"><g filter="url(#bl)">
<ellipse cx="93.0" cy="679.7" rx="15.0" ry="5.0" fill="#555" opacity="0.55"/>
<ellipse cx="123.0" cy="679.2" rx="15.0" ry="5.0" fill="#555" opacity="0.55"/>
<ellipse cx="188.0" cy="679.2" rx="16.0" ry="4.5" fill="#666" opacity="0.5"/>
<ellipse cx="93.0" cy="680.3" rx="10.0" ry="2.9" fill="#0a0a0a" opacity="1"/>
<ellipse cx="122.3" cy="679.8" rx="10.3" ry="2.9" fill="#0a0a0a" opacity="1"/>
<ellipse cx="154.5" cy="680.1" rx="11.5" ry="2.0" fill="#777" opacity="0.6"/>
<ellipse cx="188.8" cy="679.6" rx="10.8" ry="2.5" fill="#1a1a1a" opacity="0.95"/>
</g></g>
<rect x="73.6" y="672.2" width="133.3" height="13.3" fill="none" stroke="#333" stroke-width="0.8"/>
<defs><linearGradient id="gH2" x1="0" y1="0" x2="1" y2="0"><stop offset="0" stop-color="#d4d4d4"/><stop offset="0.5" stop-color="#dcdcdc"/><stop offset="1" stop-color="#d0d0d0"/></linearGradient><clipPath id="cH2"><rect x="73.6" y="695.2" width="133.3" height="24.3"/></clipPath></defs>
<rect x="73.6" y="695.2" width="133.3" height="24.3" fill="url(#gH2)"/>
<g clip-path="url(#cH2)"><g filter="url(#bl)">
<ellipse cx="140.0" cy="707.0" rx="64.0" ry="6.5" fill="#888" opacity="0.5"/>
<rect x="81.0" y="702.4" width="25.0" height="6.8" rx="9.0" ry="3.4" fill="#000" opacity="1"/>
<rect x="112.0" y="702.6" width="24.5" height="7.2" rx="8.8" ry="3.6" fill="#000" opacity="1"/>
<rect x="142.0" y="704.8" width="24.5" height="6.8" rx="8.8" ry="3.4" fill="#000" opacity="1"/>
<rect x="172.0" y="703.3" width="27.0" height="7.2" rx="9.7" ry="3.6" fill="#000" opacity="1"/>
</g></g>
<rect x="73.6" y="695.2" width="133.3" height="24.3" fill="none" stroke="#333" stroke-width="0.8"/>
<text x="140.50" y="735.30" font-size="10.1" font-weight="bold" text-anchor="middle" fill="#000" textLength="87.4" lengthAdjust="spacingAndGlyphs"><tspan font-style="italic">E.coli</tspan> 20SC1DM33</text>
</g>
</svg></body></html>
